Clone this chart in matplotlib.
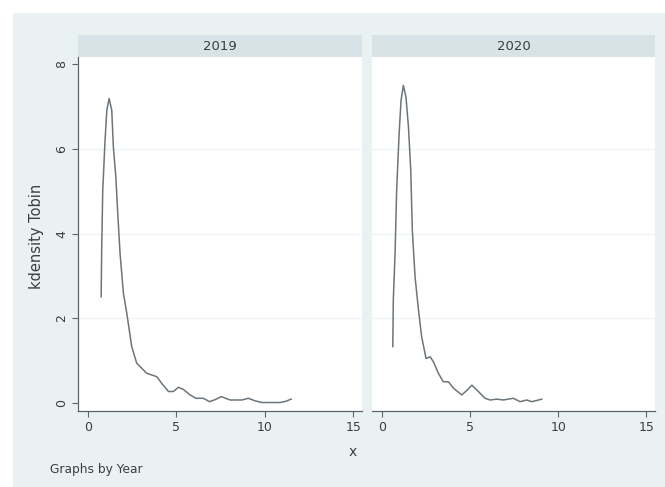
import matplotlib
matplotlib.use("Agg")
import matplotlib.pyplot as plt
from matplotlib.patches import Rectangle

# ---- data ----
years = ["2019", "2020"]
x_2019 = [0.74, 0.77, 0.83, 0.96, 1.06, 1.19, 1.34, 1.43, 1.57, 1.68, 1.81, 2.00, 2.19, 2.47,
          2.75, 3.32, 3.89, 4.17, 4.55, 4.83, 5.11, 5.39, 5.77, 6.10, 6.53, 6.87, 7.20, 7.53,
          8.04, 8.70, 9.07, 9.45, 9.83, 10.30, 10.87, 11.20, 11.49]
y_2019 = [2.51, 3.61, 5.02, 6.20, 6.91, 7.19, 6.91, 6.05, 5.34, 4.47, 3.53, 2.59, 2.12, 1.33,
          0.94, 0.70, 0.62, 0.46, 0.27, 0.27, 0.37, 0.32, 0.19, 0.11, 0.11, 0.03, 0.08, 0.15,
          0.07, 0.07, 0.11, 0.05, 0.01, 0.01, 0.01, 0.04, 0.09]
x_2020 = [0.61, 0.64, 0.74, 0.83, 0.97, 1.08, 1.21, 1.36, 1.50, 1.63, 1.72, 1.875, 2.07, 2.25,
          2.50, 2.73, 2.92, 3.20, 3.48, 3.77, 4.05, 4.53, 4.85, 5.10, 5.47, 5.85, 6.14, 6.52,
          6.89, 7.15, 7.46, 7.84, 8.22, 8.50, 8.80, 9.07]
y_2020 = [1.33, 2.43, 3.53, 5.02, 6.36, 7.15, 7.50, 7.22, 6.52, 5.50, 4.08, 2.98, 2.19, 1.56,
          1.05, 1.09, 0.97, 0.70, 0.50, 0.50, 0.35, 0.19, 0.31, 0.42, 0.27, 0.11, 0.07, 0.09,
          0.07, 0.09, 0.11, 0.03, 0.07, 0.03, 0.06, 0.09]
series = {"2019": (x_2019, y_2019), "2020": (x_2020, y_2020)}
x_ticks = [0, 5, 10, 15]
y_ticks = [0, 2, 4, 6, 8]

W, H = 665, 487
fig = plt.figure(figsize=(W / 100, H / 100), dpi=100, facecolor="white")

BG = "#eaf1f3"
STRIP = "#d8e3e8"
LINE = "#6c757b"
AX = "#5e6468"
TXT = "#3a3f42"

def fx(px):
    return px / W

def fy(py):
    return 1 - py / H

# background panel
fig.patches.append(Rectangle((fx(13), 0), 1 - fx(13), fy(13), transform=fig.transFigure,
                             facecolor=BG, edgecolor="none", zorder=-10))

panels = [(78, 362), (372, 655)]
top, bottom = 57, 411
for i, (yr, (l, r)) in enumerate(zip(years, panels)):
    ax = fig.add_axes([fx(l), fy(bottom), fx(r - l), (bottom - top) / H])
    ax.set_zorder(1)
    ax.set_facecolor("white")
    xs, ys = series[yr]
    ax.plot(xs, ys, color=LINE, lw=1.1, zorder=3, solid_joinstyle="round")
    ax.set_xlim(-0.57, 15.5)
    ax.set_ylim(-0.19, 8.17)
    ax.set_xticks(x_ticks)
    ax.set_xticklabels([str(t) for t in x_ticks])
    ax.set_yticks(y_ticks)
    for g in [2, 4, 6]:
        ax.axhline(g, color="#eef3f5", lw=0.8, zorder=1)
    for s in ["top", "right"]:
        ax.spines[s].set_visible(False)
    ax.spines["bottom"].set_color(AX)
    ax.spines["bottom"].set_linewidth(0.9)
    ax.tick_params(axis="x", colors=AX, labelcolor=TXT, labelsize=9, length=4, width=0.8, pad=3)
    if i == 0:
        ax.spines["left"].set_color(AX)
        ax.spines["left"].set_linewidth(0.9)
        ax.set_yticklabels([str(t) for t in y_ticks], rotation=90, va="center")
        ax.tick_params(axis="y", colors=AX, labelcolor=TXT, labelsize=9, length=4, width=0.8, pad=3)
    else:
        ax.spines["left"].set_visible(False)
        ax.tick_params(axis="y", left=False, labelleft=False)
    # strip header
    fig.patches.append(Rectangle((fx(l), fy(top)), fx(r - l), (top - 35) / H,
                                 transform=fig.transFigure, facecolor=STRIP,
                                 edgecolor="none", zorder=-5))
    fig.text(fx((l + r) / 2), fy(46), yr, ha="center", va="center", fontsize=9.5, color=TXT)

fig.text(fx(36), fy(236), "kdensity Tobin", rotation=90, ha="center", va="center",
         fontsize=10.5, color=TXT)
fig.text(fx(353), fy(452), "x", ha="center", va="center", fontsize=10, color=TXT)
fig.text(fx(50), fy(469), "Graphs by Year", ha="left", va="center", fontsize=8.8, color=TXT)

fig.savefig("out.png", dpi=100, facecolor="white")
